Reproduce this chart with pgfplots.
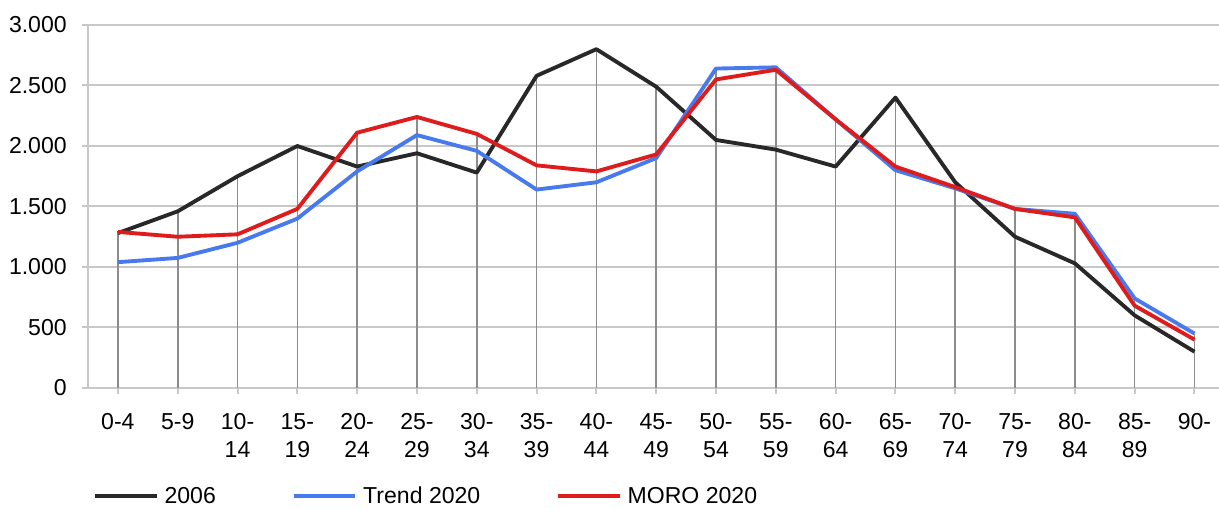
\documentclass[border=0pt]{standalone}
\usepackage{fontspec}
\setmainfont{Liberation Sans}
\usepackage{pgfplots}
\pgfplotsset{compat=1.18}
\definecolor{cblack}{RGB}{40,40,40}
\definecolor{cblue}{RGB}{72,122,238}
\definecolor{cred}{RGB}{222,28,28}
\definecolor{cgrid}{RGB}{200,200,200}
\definecolor{cdrop}{RGB}{140,140,140}
\begin{document}
\begin{tikzpicture}
\begin{axis}[
  name=ax,
  scale only axis,
  width=848.25pt, height=272.25pt,
  xmin=-0.5, xmax=18.41,
  ymin=0, ymax=3000,
  axis lines*=left,
  axis line style={cgrid, line width=1.5pt},
  ymajorgrids,
  grid style={cgrid, line width=1.5pt},
  ytick={0,500,1000,1500,2000,2500,3000},
  yticklabels={0,500,1.000,1.500,2.000,2.500,3.000},
  xtick={0,...,18},
  xticklabels={0-4,5-9,10-\\14,15-\\19,20-\\24,25-\\29,30-\\34,35-\\39,40-\\44,45-\\49,50-\\54,55-\\59,60-\\64,65-\\69,70-\\74,75-\\79,80-\\84,85-\\89,90-},
  tick align=outside,
  major tick length=4.5pt,
  tick style={cgrid, line width=1.5pt},
  xtick pos=bottom, ytick pos=left,
  every tick label/.append style={font=\fontsize{17.3}{21}\selectfont, text=black},
  yticklabel style={inner sep=0pt, xshift=-11.25pt},
  xticklabel style={inner sep=0pt, align=center, anchor=north, yshift=-14.25pt},
  legend columns=-1,
  legend style={at={(0.0044,-0.2975)}, anchor=west, draw=none, inner sep=0pt,
    font=\fontsize{17.3}{21}\selectfont,
    nodes={inner sep=0pt, anchor=west},
    /tikz/every odd column/.append style={column sep=4.5pt},
    /tikz/every even column/.append style={column sep=57pt}},
  legend image code/.code={\draw[#1, line width=3pt] (0pt,0pt) -- (46pt,0pt);},
  line join=round,
]
\addplot[ycomb, cdrop, line width=1.2pt, no marks, forget plot] coordinates {
(0,1290) (1,1460) (2,1750) (3,2000) (4,2110) (5,2240) (6,2100) (7,2580) (8,2800) (9,2490)
(10,2640) (11,2650) (12,2220) (13,2400) (14,1700) (15,1480) (16,1440) (17,740) (18,450)};
\addplot[cblack, line width=2.9pt, no marks] coordinates {
(0,1280) (1,1460) (2,1750) (3,2000) (4,1830) (5,1940) (6,1780) (7,2580) (8,2800) (9,2490)
(10,2050) (11,1970) (12,1830) (13,2400) (14,1700) (15,1250) (16,1030) (17,600) (18,300)};
\addlegendentry{2006}
\addplot[cblue, line width=2.9pt, no marks] coordinates {
(0,1040) (1,1075) (2,1200) (3,1400) (4,1790) (5,2090) (6,1960) (7,1640) (8,1700) (9,1900)
(10,2640) (11,2650) (12,2220) (13,1800) (14,1650) (15,1480) (16,1440) (17,740) (18,450)};
\addlegendentry{Trend 2020}
\addplot[cred, line width=2.9pt, no marks] coordinates {
(0,1290) (1,1250) (2,1270) (3,1480) (4,2110) (5,2240) (6,2100) (7,1840) (8,1790) (9,1930)
(10,2550) (11,2630) (12,2220) (13,1830) (14,1660) (15,1480) (16,1410) (17,680) (18,400)};
\addlegendentry{MORO 2020}
\end{axis}
\pgfresetboundingbox
\path ([shift={(-66pt,-90.75pt)}]ax.south west) rectangle ([shift={(0pt,18.75pt)}]ax.north east);
\end{tikzpicture}
\end{document}
